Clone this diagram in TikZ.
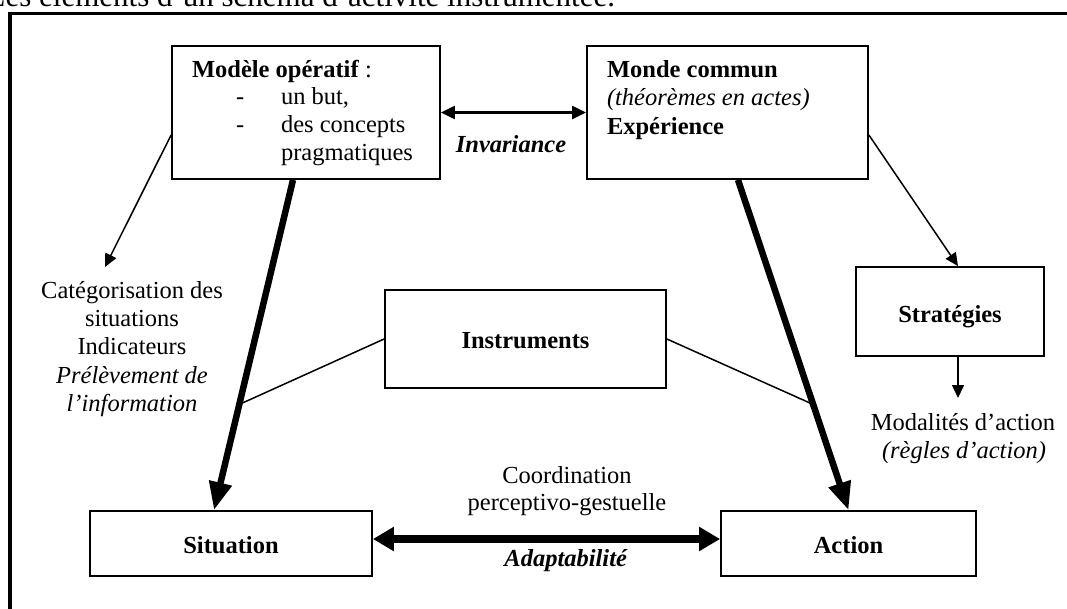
\documentclass[tikz,border=0pt]{standalone}
\usepackage{fontspec}
\setmainfont{Liberation Serif}
\usetikzlibrary{arrows.meta,calc}
\begin{document}
\begin{tikzpicture}[x=1pt,y=-1pt,
  every node/.style={inner sep=0pt, outer sep=0pt, font=\fontsize{24.5}{28}\selectfont},
  box/.style={draw, line width=1.8pt, rectangle, inner sep=0pt, outer sep=0.9pt},
  lbl/.style={anchor=base},
  lblw/.style={anchor=base west},
  thinarrow/.style={line width=1.5pt, -{Triangle[length=13pt,width=12pt]}},
  plain/.style={line width=1.5pt},
  invarrow/.style={line width=2.2pt, {Triangle[length=14pt,width=13pt]}-{Triangle[length=14pt,width=13pt]}},
  heavyarrow/.style={line width=6.5pt, -{Triangle[length=28pt,width=22pt]}},
  adaptarrow/.style={line width=8pt, {Triangle[length=21pt,width=23pt]}-{Triangle[length=21pt,width=23pt]}},
]
\clip (0,0) rectangle (1067,608);
% outer frame (cropped)
\draw[line width=3.6pt] (10,650) -- (10,13.3) -- (1100,13.3);
% caption (cropped at the top)
\node[anchor=base east, font=\fontsize{31}{36}\selectfont] (cap) at (615,6.7) {Les éléments d’un schéma d’activité instrumentée.};

% boxes
\node[box, minimum width=268pt, minimum height=133pt] (modele) at (306,112.5) {};
\node[box, minimum width=281pt, minimum height=133pt] (monde) at (727.5,112.5) {};
\node[box, minimum width=281pt, minimum height=98pt] (instr) at (525.5,339) {};
\node[box, minimum width=188pt, minimum height=89pt] (strat) at (950,311.5) {};
\node[box, minimum width=282pt, minimum height=65pt] (situation) at (231,543.5) {};
\node[box, minimum width=255pt, minimum height=65pt] (action) at (848.5,543.5) {};

% box texts
\node[lblw] (m1) at (192,77) {\textbf{Modèle opératif} :};
\node[lblw] (m2a) at (236,104) {-};
\node[lblw] (m2) at (281,104) {un but,};
\node[lblw] (m3a) at (236,132) {-};
\node[lblw] (m3) at (281,132) {des concepts};
\node[lblw] (m4) at (281,160) {pragmatiques};
\node[lblw] (w1) at (607,77) {\textbf{Monde commun}};
\node[lblw] (w2) at (607,105) {\textit{(théorèmes en actes)}};
\node[lblw] (w3) at (607,134) {\textbf{Expérience}};
\node[lbl] (instrt) at (525.5,348) {\textbf{Instruments}};
\node[lbl] (stratt) at (950,322) {\textbf{Stratégies}};
\node[lbl] (sitt) at (231,553) {\textbf{Situation}};
\node[lbl] (actt) at (848.5,553) {\textbf{Action}};

% free labels
\node[lbl] (inv) at (511,152) {\textbf{\textit{Invariance}}};
\node[lbl] (cat1) at (132,298) {Catégorisation des};
\node[lbl] (cat2) at (132,326) {situations};
\node[lbl] (cat3) at (132,354) {Indicateurs};
\node[lbl] (cat4) at (132,383) {\textit{Prélèvement de}};
\node[lbl] (cat5) at (132,411) {\textit{l’information}};
\node[lbl] (mod1) at (963,430) {Modalités d’action};
\node[lbl] (mod2) at (964,458) {\textit{(règles d’action)}};
\node[lbl] (co1) at (567,483) {Coordination};
\node[lbl] (co2) at (567,510) {perceptivo-gestuelle};
\node[lbl] (adapt) at (566,566) {\textbf{\textit{Adaptabilité}}};

% connectors
\draw[invarrow] (modele) -- (monde);
\coordinate (catTip) at (105,267);
\draw[thinarrow] ($(modele.west)+(0,22.5)$) -- (catTip);
\draw[thinarrow] ($(monde.east)+(0,22.5)$) -- ($(strat.north)+(8,0)$);
\coordinate (modTip) at (958,398);
\draw[thinarrow] ($(strat.south)+(8,0)$) -- (modTip);
\coordinate (hA1) at ($(modele.south)+(-13,0)$);
\coordinate (hA2) at ($(situation.north)+(-17,0)$);
\coordinate (hB1) at ($(monde.south)+(10.5,0)$);
\coordinate (hB2) at ($(action.north)+(0,0)$);
\draw[heavyarrow] (hA1) -- (hA2);
\draw[heavyarrow] (hB1) -- (hB2);
\coordinate (pL) at ($(hA1)!0.68!(hA2)$);
\coordinate (pR) at ($(hB1)!0.68!(hB2)$);
\draw[plain] (instr.west) -- (pL);
\draw[plain] (instr.east) -- (pR);
\draw[adaptarrow] ($(situation.east)+(0,-4.5)$) -- ($(action.west)+(0,-4.5)$);
\end{tikzpicture}
\end{document}
